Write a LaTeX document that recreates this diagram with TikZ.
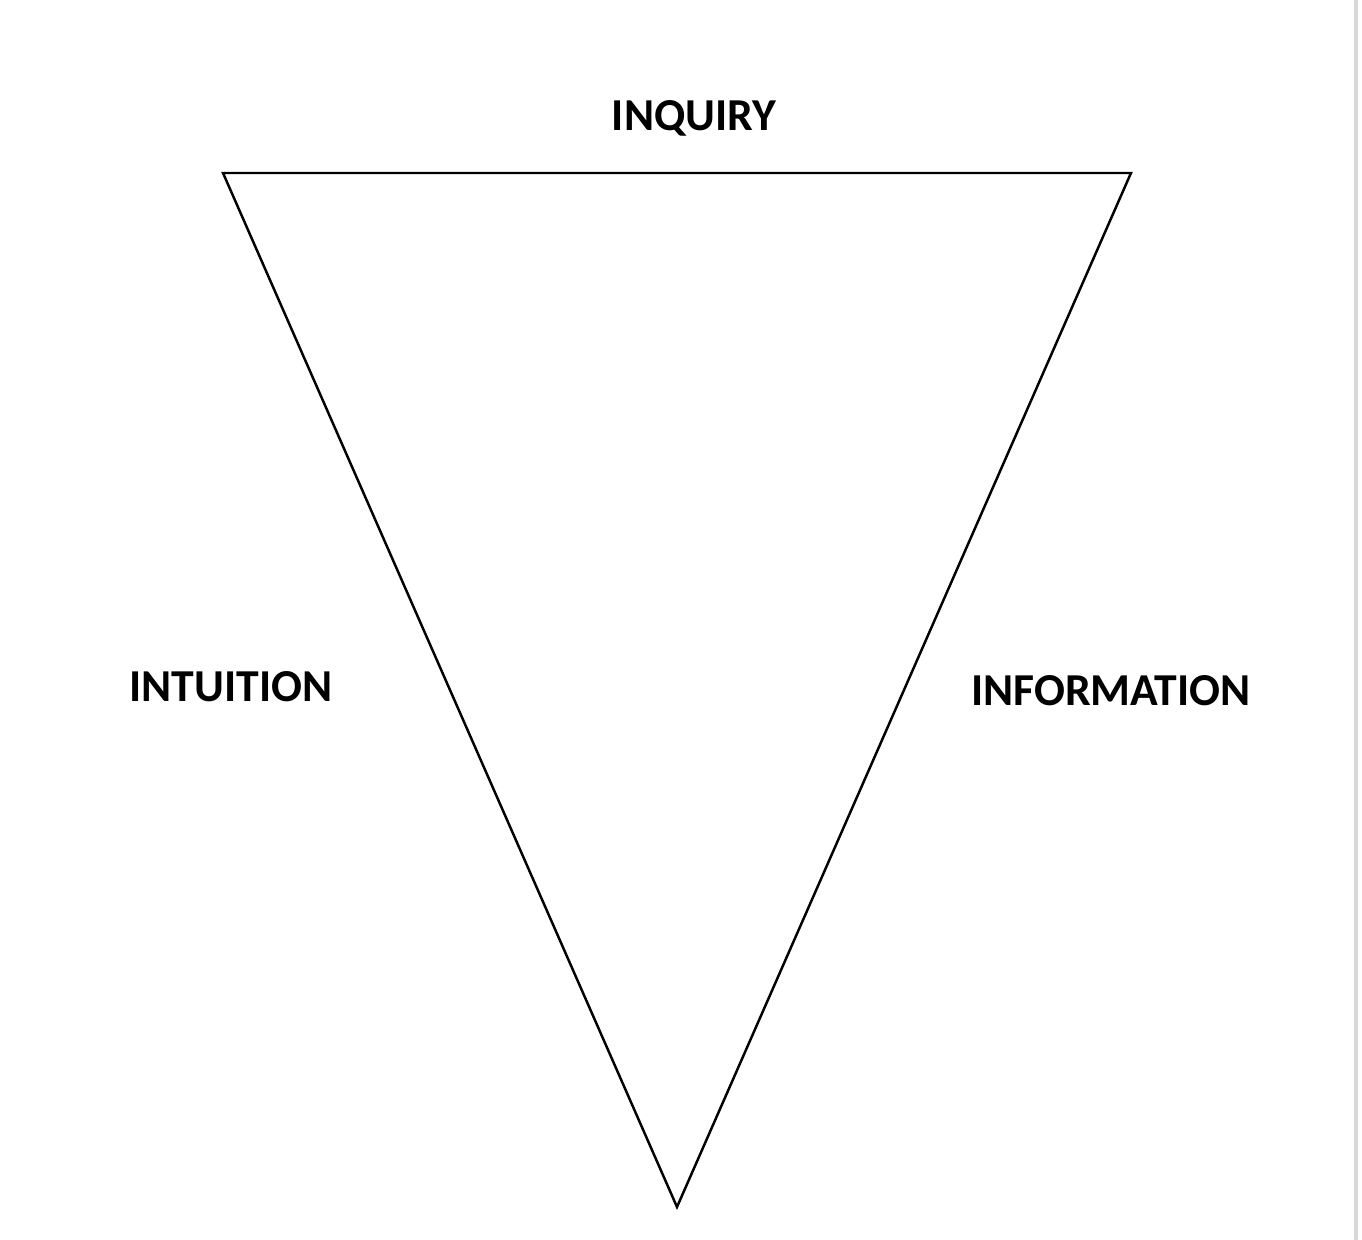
\documentclass[tikz,border=0pt]{standalone}
\usepackage{fontspec}
\setmainfont{Carlito}
\usetikzlibrary{positioning}
\tikzset{lbl/.style={font=\fontsize{13}{15}\selectfont\bfseries,inner sep=0pt}}
\tikzset{corner/.style={coordinate}}
\begin{document}
\begin{tikzpicture}[x=0.01cm,y=-0.01cm]
    \useasboundingbox (0,0) rectangle (1362,1240);
    \draw[gray!30,line width=1.2pt] (1356,0) -- (1356,1240);
    \coordinate[corner] (tl) at (223,173);
    \coordinate[corner] (tr) at (1131,173);
    \coordinate[corner] (bot) at (677,1207);
    \draw[line width=0.7pt,line join=miter] (tl) -- (tr) -- (bot) -- cycle;
    \node[lbl] (inquiry) at (694,118) {INQUIRY};
    \node[lbl] (intuition) at (231,687) {INTUITION};
    \node[lbl] (information) at (1111,691) {INFORMATION};
\end{tikzpicture}
\end{document}
